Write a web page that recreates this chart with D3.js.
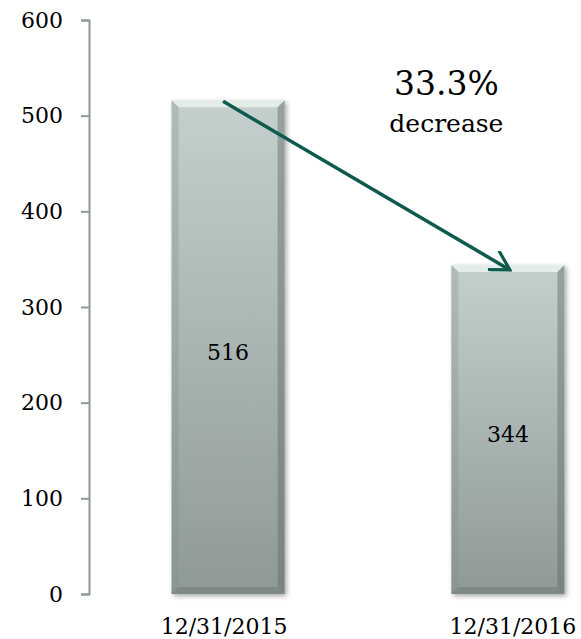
<!DOCTYPE html>
<meta charset="utf-8">
<style>
  body { margin: 0; background: #fff; }
  text { font-family: "DejaVu Serif", serif; fill: #000; }
</style>
<svg width="581" height="639"></svg>
<script src="https://d3js.org/d3.v7.min.js"></script>
<script>

var categories = ["12/31/2015", "12/31/2016"];
var values = [516, 344];
var yTicks = [0, 100, 200, 300, 400, 500, 600];
var changeLabel = ["33.3%", "decrease"];

var svg = d3.select("svg"),
    width = +svg.attr("width"),
    height = +svg.attr("height");

var x = d3.scaleBand()
    .domain(categories)
    .range([89, 647])
    .paddingInner(0.596)
    .paddingOuter(0.295);

var y = d3.scaleLinear()
    .domain([0, 600])
    .range([594, 20]);

var defs = svg.append("defs");

var grad = defs.append("linearGradient")
    .attr("id", "barfill")
    .attr("x1", 0).attr("y1", 0).attr("x2", 0).attr("y2", 1);
grad.append("stop").attr("offset", "0%").attr("stop-color", "#c4d0ce");
grad.append("stop").attr("offset", "100%").attr("stop-color", "#8f9a98");

var shadow = defs.append("filter")
    .attr("id", "shadow")
    .attr("x", "-20%").attr("y", "-10%")
    .attr("width", "140%").attr("height", "120%");
shadow.append("feDropShadow")
    .attr("dx", 2).attr("dy", 2)
    .attr("stdDeviation", 2.5)
    .attr("flood-color", "#000")
    .attr("flood-opacity", 0.35);

// open chevron head, about 30deg each side
defs.append("marker")
    .attr("id", "arrow")
    .attr("viewBox", "0 0 10 10")
    .attr("refX", 9).attr("refY", 5)
    .attr("markerWidth", 6.5).attr("markerHeight", 6.5)
    .attr("orient", "auto")
    .attr("markerUnits", "strokeWidth")
  .append("path")
    .attr("d", "M0.6,0.2 L9,5 L0.6,9.8")
    .attr("fill", "none")
    .attr("stroke", "#0e5a4f")
    .attr("stroke-linejoin", "miter")
    .attr("stroke-width", 1.4);

// y axis
var yAxis = svg.append("g")
    .attr("transform", "translate(89,0)")
    .call(d3.axisLeft(y).tickValues(yTicks).tickSize(8).tickPadding(18).tickSizeOuter(8));
yAxis.select(".domain").attr("stroke", "#8b9b9a").attr("stroke-width", 2);
yAxis.selectAll(".tick line").attr("stroke", "#8b9b9a").attr("stroke-width", 2);
yAxis.selectAll(".tick text")
    .attr("font-family", "DejaVu Serif, serif")
    .attr("font-size", 22)
    .attr("fill", "#000");

// bars
var bw = x.bandwidth(), bev = 7;
var bars = svg.selectAll(".bar")
    .data(values)
  .enter().append("g")
    .attr("class", "bar")
    .attr("transform", function(d, i) { return "translate(" + x(categories[i]) + "," + y(d) + ")"; });

bars.append("rect")
    .attr("width", bw)
    .attr("height", function(d) { return y(0) - y(d); })
    .attr("fill", "url(#barfill)")
    .attr("filter", "url(#shadow)");

// bevel edges
bars.append("path")
    .attr("d", "M0,0 L" + bw + ",0 L" + (bw - bev) + "," + bev + " L" + bev + "," + bev + "Z")
    .attr("fill", "#eef4f2").attr("opacity", 0.8);
bars.append("path")
    .attr("d", function(d) { var h = y(0) - y(d); return "M0,0 L" + bev + "," + bev + " L" + bev + "," + (h - bev) + " L0," + h + "Z"; })
    .attr("fill", "#7f8a89").attr("opacity", 0.3);
bars.append("path")
    .attr("d", function(d) { var h = y(0) - y(d); return "M" + bw + ",0 L" + (bw - bev) + "," + bev + " L" + (bw - bev) + "," + (h - bev) + " L" + bw + "," + h + "Z"; })
    .attr("fill", "#5f6968").attr("opacity", 0.45);
bars.append("path")
    .attr("d", function(d) { var h = y(0) - y(d); return "M0," + h + " L" + bev + "," + (h - bev) + " L" + (bw - bev) + "," + (h - bev) + " L" + bw + "," + h + "Z"; })
    .attr("fill", "#6e7877").attr("opacity", 0.5);

bars.append("text")
    .attr("x", bw / 2)
    .attr("y", function(d) { return (y(0) - y(d)) / 2 + 5; })
    .attr("dy", "0.35em")
    .attr("text-anchor", "middle")
    .attr("font-size", 22)
    .text(function(d) { return d; });

// category labels
svg.selectAll(".cat")
    .data(categories)
  .enter().append("text")
    .attr("class", "cat")
    .attr("x", function(d, i) { return x(d) + bw / 2 + (i ? 5 : -4); })
    .attr("y", 634)
    .attr("text-anchor", "middle")
    .attr("font-size", 22)
    .text(function(d) { return d; });

// change arrow
var x1 = x(categories[0]) + bw / 2 - 5, y1 = y(values[0]) + 1,
    x2 = x(categories[1]) + bw / 2 + 2, y2 = y(values[1]) + 5;
svg.append("line")
    .attr("x1", x1).attr("y1", y1)
    .attr("x2", x2).attr("y2", y2)
    .attr("stroke", "#0e5a4f")
    .attr("stroke-width", 3.5)
    .attr("marker-end", "url(#arrow)");

var ax = x(categories[1]) - 5;
svg.append("text")
    .attr("x", ax).attr("y", 95)
    .attr("text-anchor", "middle")
    .attr("font-size", 33)
    .text(changeLabel[0]);
svg.append("text")
    .attr("x", ax).attr("y", 132)
    .attr("text-anchor", "middle")
    .attr("font-size", 25)
    .text(changeLabel[1]);

</script>
